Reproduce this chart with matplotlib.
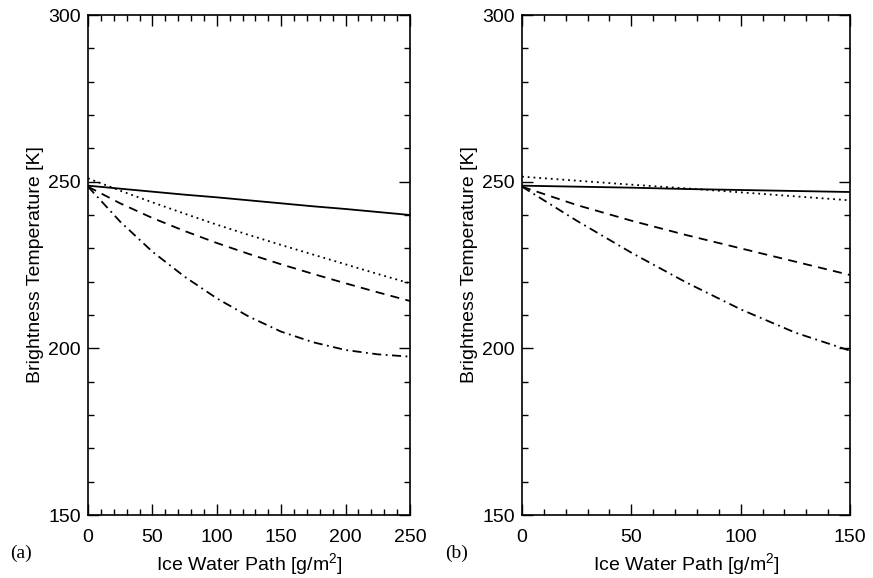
import matplotlib
matplotlib.use("Agg")
import matplotlib.pyplot as plt
import numpy as np
from matplotlib.ticker import MultipleLocator

plt.rcParams['font.family'] = ['Liberation Sans', 'DejaVu Sans']
plt.rcParams['mathtext.fontset'] = 'custom'
plt.rcParams['mathtext.rm'] = 'Liberation Sans'

# Panel (a)
iwp_a = [0, 25, 50, 75, 100, 125, 150, 175, 200, 225, 250]
solid_a = [248.8, 247.9, 247.0, 246.1, 245.3, 244.4, 243.5, 242.6, 241.8, 240.9, 240.0]
dotted_a = [251.0, 247.3, 243.8, 240.4, 237.1, 234.0, 231.0, 228.1, 225.2, 222.3, 219.5]
dashed_a = [248.5, 243.5, 239.1, 235.2, 231.6, 228.3, 225.2, 222.3, 219.5, 216.8, 214.2]
dashdot_a = [248.5, 238.0, 229.0, 221.5, 215.0, 209.5, 205.0, 201.8, 199.5, 198.2, 197.5]

# Panel (b)
iwp_b = [0, 25, 50, 75, 100, 125, 150]
solid_b = [248.8, 248.5, 248.2, 247.8, 247.5, 247.2, 246.9]
dotted_b = [251.5, 250.3, 249.1, 248.0, 246.8, 245.6, 244.4]
dashed_b = [248.5, 243.0, 238.3, 234.0, 230.0, 226.0, 222.0]
dashdot_b = [248.5, 238.3, 228.7, 219.8, 211.7, 204.7, 199.3]

fig = plt.figure(figsize=(8.73, 5.78), dpi=100)
W, H = 873.0, 578.0
axa = fig.add_axes([88 / W, (H - 515) / H, 322 / W, 500 / H])
axb = fig.add_axes([522 / W, (H - 515) / H, 328 / W, 500 / H])

styles = [
    dict(ls='-'),
    dict(ls=(0, (1, 2.2))),
    dict(ls=(0, (5, 3.5))),
    dict(ls=(0, (5, 2.5, 1, 2.5))),
]

FS = 14.0

def draw(ax, x, series, xmax, xmajor):
    for ys, st in zip(series, styles):
        ax.plot(x, ys, color='black', lw=1.3, **st)
    ax.set_xlim(0, xmax)
    ax.set_ylim(150, 300)
    ax.xaxis.set_major_locator(MultipleLocator(xmajor))
    ax.xaxis.set_minor_locator(MultipleLocator(10))
    ax.yaxis.set_major_locator(MultipleLocator(50))
    ax.yaxis.set_minor_locator(MultipleLocator(10))
    ax.tick_params(which='both', direction='in', top=True, right=True,
                   labelsize=FS, width=1.0)
    ax.tick_params(axis='x', which='both', pad=10)
    ax.tick_params(axis='y', which='both', pad=5)
    ax.tick_params(which='major', length=8)
    ax.tick_params(which='minor', length=4)
    for s in ax.spines.values():
        s.set_linewidth(1.2)
    ax.set_xlabel('Ice Water Path [g/m$^{\\mathregular{2}}$]', fontsize=FS, labelpad=4)
    ax.set_ylabel('Brightness Temperature [K]', fontsize=FS, labelpad=3)

draw(axa, iwp_a, [solid_a, dotted_a, dashed_a, dashdot_a], 250, 50)
draw(axb, iwp_b, [solid_b, dotted_b, dashed_b, dashdot_b], 150, 50)

fig.text(10 / W, 1 - 553 / H, '(a)', family='Liberation Serif', fontsize=FS, va='center')
fig.text(445 / W, 1 - 553 / H, '(b)', family='Liberation Serif', fontsize=FS, va='center')

fig.savefig('out.png', dpi=100)
